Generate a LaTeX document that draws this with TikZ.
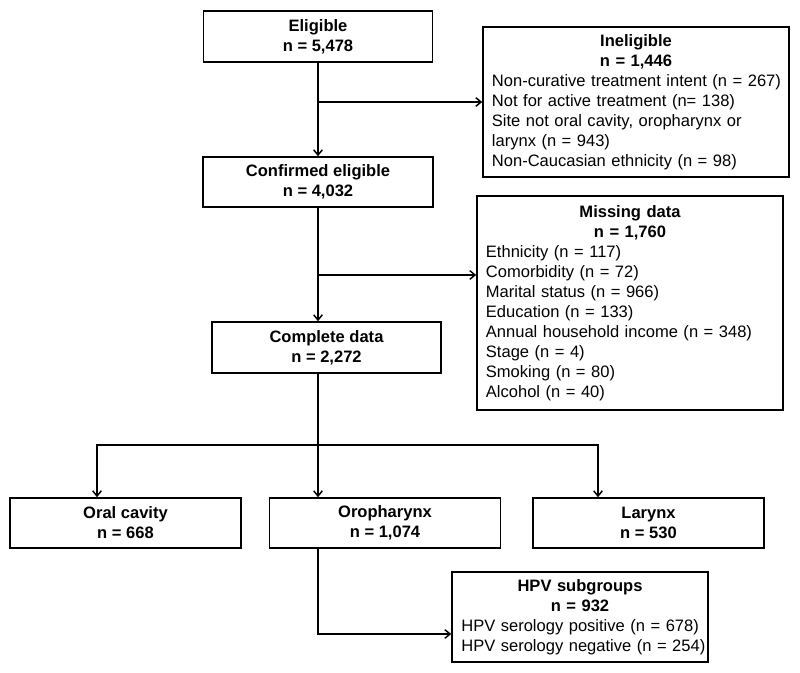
\documentclass[tikz,border=0pt]{standalone}
\usepackage{fontspec}
\setmainfont{Liberation Sans}
\usetikzlibrary{arrows.meta}
\setlength{\parindent}{0pt}

\begin{document}
\begin{tikzpicture}[x=.75pt,y=-.75pt,
  font=\fontsize{12.4}{15}\selectfont,
  box/.style={draw, line width=1.1pt, align=center, font=\fontsize{12.4}{15}\selectfont\bfseries},
  listbox/.style={draw, line width=1.1pt, align=left, inner xsep=2pt, inner ysep=0pt},
  ln/.style={line width=1.1pt},
  arr/.style={line width=1.1pt, -{Straight Barb[length=4pt,width=6.5pt]}}]
  \useasboundingbox (0,0) rectangle (800,673);
  % main column
  \node [box, minimum width=171.75pt, minimum height=38.25pt] (elig) at (318,36.5) {Eligible\\n = 5,478};
  \node [box, minimum width=172.5pt, minimum height=37.5pt] (conf) at (318,182) {Confirmed eligible\\n = 4,032};
  \node [box, minimum width=171.75pt, minimum height=38.25pt] (comp) at (326.5,347.5) {Complete data\\n = 2,272};
  % exclusions
  \node [listbox, text width=225.5pt, minimum height=112.5pt] (inel) at (636,102) {\leftskip=4.7pt
    {\centering\bfseries Ineligible\\ n = 1,446\par}
    Non-curative treatment intent (n = 267)\\
    Not for active treatment (n= 138)\\
    Site not oral cavity, oropharynx or\\
    larynx (n = 943)\\
    Non-Caucasian ethnicity (n = 98)\par};
  \node [listbox, text width=225.5pt, minimum height=160.5pt] (miss) at (630,303) {\leftskip=4.7pt
    {\centering\bfseries Missing data\\ n = 1,760\par}
    Ethnicity (n = 117)\\
    Comorbidity (n = 72)\\
    Marital status (n = 966)\\
    Education (n = 133)\\
    Annual household income (n = 348)\\
    Stage (n = 4)\\
    Smoking (n = 80)\\
    Alcohol (n = 40)\par};
  % sites
  \node [box, minimum width=173.25pt, minimum height=37.5pt] (oral) at (125.5,523) {Oral cavity\\n = 668};
  \node [box, minimum width=173.25pt, minimum height=37.5pt] (oro) at (385,523) {Oropharynx\\n = 1,074};
  \node [box, minimum width=173.25pt, minimum height=37.5pt] (lar) at (648.5,523) {Larynx\\n = 530};
  \node [listbox, text width=188pt, minimum height=67.5pt] (hpv) at (580,617) {\leftskip=5pt
    {\centering\bfseries HPV subgroups\\ n = 932\par}
    HPV serology positive (n = 678)\\
    HPV serology negative (n = 254)\par};
  % connectors
  \coordinate (missin) at (miss.west |- 0,275);
  \coordinate (split) at (318,445);
  \coordinate (splitl) at (97,445);
  \coordinate (splitr) at (598,445);
  \coordinate (hpvin) at (hpv.west |- 0,634);
  \draw [arr] (elig) -- (conf);
  \draw [arr] (elig.south |- inel.west) -- (inel.west);
  \draw [arr] (conf) -- (conf.south |- comp.north);
  \draw [arr] (conf.south |- missin) -- (missin);
  \draw [ln] (conf.south |- comp.south) -- (split);
  \draw [arr] (split) -- (split |- oro.north);
  \draw [arr] (split) -- (splitl) -- (splitl |- oral.north);
  \draw [arr] (split) -- (splitr) -- (splitr |- lar.north);
  \draw [arr] (conf.south |- oro.south) -- (conf.south |- hpvin) -- (hpvin);
\end{tikzpicture}
\end{document}
